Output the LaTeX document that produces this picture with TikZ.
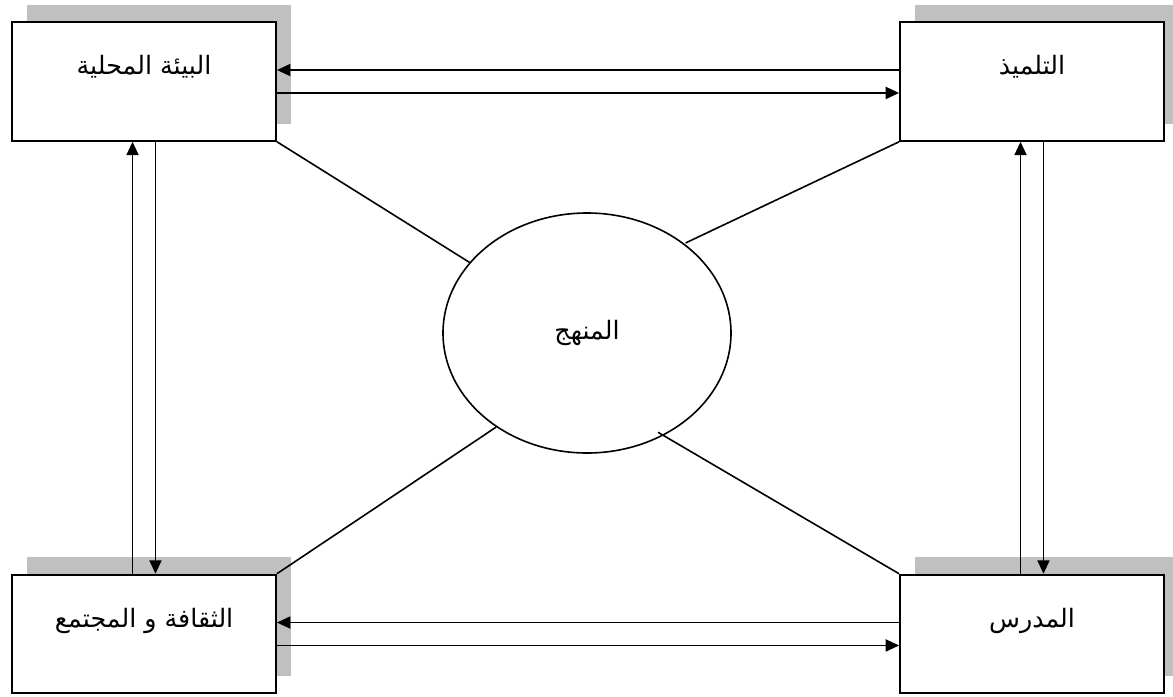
\documentclass[tikz,border=0pt]{standalone}
\usepackage{fontspec}
\usetikzlibrary{arrows.meta, shadows, shapes.geometric}
\newfontfamily\arabicfont[Script=Arabic]{DejaVu Sans}
\TeXXeTstate=1
\definecolor{shadowgray}{HTML}{C0C0C0}
\definecolor{darkline}{HTML}{000000}
\tikzset{
  box/.style={rectangle, draw=darkline, fill=white, line width=1.4pt,
              minimum width=198pt, minimum height=89pt,
              text height=12pt, text depth=22pt,
              font=\arabicfont\fontsize{19}{22}\selectfont,
              general shadow={fill=shadowgray, shadow xshift=11.5pt, shadow yshift=13pt}},
  hub/.style={ellipse, draw=darkline, line width=1.2pt, minimum width=216pt,
              minimum height=180pt, font=\arabicfont\fontsize{19}{22}\selectfont},
  flow/.style={-{Triangle[length=10pt, width=9pt]}, line width=1.3pt, draw=darkline},
  spoke/.style={line width=1.2pt, draw=darkline},
}
\def\pairgap{8.6pt}

\begin{document}
\begin{tikzpicture}[x=0.75pt, y=-0.75pt]
\useasboundingbox (0,0) rectangle (1173,696);

% Four corner boxes
\node[box] (bia)      at (144,81.5)  {\beginR البيئة المحلية\endR};
\node[box] (talmidh)  at (1032,81.5) {\beginR التلميذ\endR};
\node[box] (thaqafa)  at (144,634)   {\beginR الثقافة و المجتمع\endR};
\node[box] (mudarris) at (1032,634)  {\beginR المدرس\endR};

% Centre
\node[hub] (manhaj) at (587,333) {\beginR المنهج\endR};

% Paired arrows, top and bottom
\draw[flow] ([yshift=\pairgap]talmidh.west)   -- ([yshift=\pairgap]bia.east);
\draw[flow] ([yshift=-\pairgap]bia.east)      -- ([yshift=-\pairgap]talmidh.west);
\draw[flow] ([yshift=\pairgap]mudarris.west)  -- ([yshift=\pairgap]thaqafa.east);
\draw[flow] ([yshift=-\pairgap]thaqafa.east)  -- ([yshift=-\pairgap]mudarris.west);

% Paired arrows, left and right
\draw[flow] ([xshift=-\pairgap]thaqafa.north) -- ([xshift=-\pairgap]bia.south);
\draw[flow] ([xshift=\pairgap]bia.south)      -- ([xshift=\pairgap]thaqafa.north);
\draw[flow] ([xshift=-\pairgap]mudarris.north) -- ([xshift=-\pairgap]talmidh.south);
\draw[flow] ([xshift=\pairgap]talmidh.south)  -- ([xshift=\pairgap]mudarris.north);

% Spokes to the centre
\draw[spoke] (bia.south east)      -- (manhaj.149);
\draw[spoke] (talmidh.south west)  -- ([shift={(3pt,-1pt)}]manhaj.44);
\draw[spoke] (thaqafa.north east)  -- (manhaj.226);
\draw[spoke] (mudarris.north west) -- ([shift={(-3pt,3pt)}]manhaj.306);

\end{tikzpicture}
\end{document}
